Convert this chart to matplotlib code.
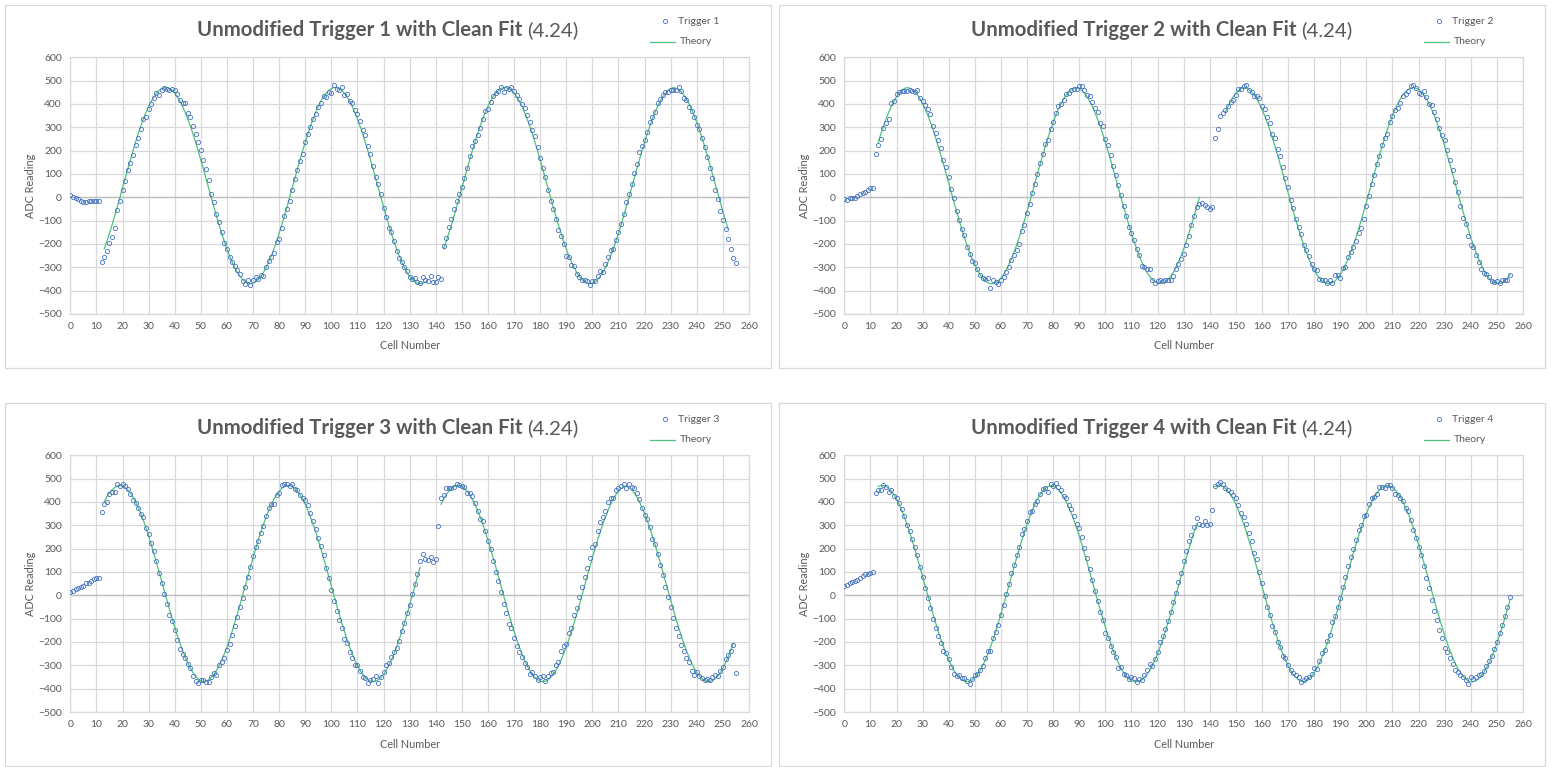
import matplotlib
matplotlib.use("Agg")
import numpy as np
import matplotlib.pyplot as plt
from matplotlib.lines import Line2D
from matplotlib.patches import Rectangle

plt.rcParams['font.family'] = ['Lato', 'DejaVu Sans']

# ---- measured ADC readings, one per cell (0..255) ----
trigger1 = [10, 3, -3, -9, -17, -18, -18, -16, -15, -17, -15, -17,
            -276, -255, -229, -196, -170, -133, -53, -14, 33,
            70, 116, 149, 183, 224, 256, 292, 335, 345, 378,
            399, 426, 447, 437, 459, 470, 465, 460, 465, 460,
            441, 416, 405, 404, 363, 343, 304, 271, 237, 203,
            160, 120, 75, 16, -22, -70, -105, -149, -194, -223,
            -257, -278, -296, -312, -328, -357, -370, -353, -376, -356,
            -341, -352, -334, -338, -298, -273, -256, -239, -193, -178,
            -132, -82, -49, -15, 31, 77, 118, 157, 186, 239,
            273, 300, 335, 358, 386, 404, 434, 428, 452, 447,
            480, 463, 462, 474, 437, 444, 411, 404, 374, 356,
            325, 289, 267, 220, 187, 133, 88, 58, 16, -45,
            -83, -131, -149, -188, -232, -262, -278, -297, -316, -340,
            -349, -347, -362, -366, -341, -356, -359, -337, -361, -365, -341, -349,
            -209, -173, -127, -94, -50, -17, 16, 44, 83, 126,
            176, 220, 240, 266, 296, 337, 369, 380, 409, 433,
            449, 456, 473, 451, 469, 466, 473, 456, 440, 420,
            401, 384, 354, 323, 287, 261, 216, 170, 127, 86,
            30, -14, -51, -94, -139, -166, -199, -251, -256, -291,
            -296, -327, -341, -356, -356, -360, -377, -360, -359, -339,
            -316, -320, -284, -256, -227, -223, -181, -149, -113, -73,
            -20, 16, 59, 104, 144, 194, 221, 247, 280, 323,
            344, 364, 404, 420, 440, 451, 451, 461, 459, 461,
            473, 456, 427, 416, 387, 369, 344, 309, 294, 254,
            216, 173, 127, 83, 33, -9, -59, -96, -137, -180,
            -223, -259, -280]

trigger2 = [-9, -11, -4, -3, -1, 7, 14, 19, 24, 33, 39, 39,
            184, 223, 251, 296, 319, 334, 403, 414, 443,
            451, 456, 456, 454, 459, 457, 451, 459, 426, 413,
            397, 380, 356, 304, 277, 247, 211, 161, 130, 86,
            37, -1, -60, -96, -136, -160, -213, -244, -273, -280,
            -309, -334, -346, -351, -346, -389, -356, -364, -373, -356,
            -341, -319, -299, -270, -249, -227, -199, -146, -117, -67,
            -30, 19, 56, 99, 147, 187, 227, 247, 294, 323,
            361, 390, 401, 419, 444, 447, 459, 466, 464, 477,
            477, 461, 440, 433, 409, 384, 366, 320, 304, 249,
            224, 183, 134, 94, 51, 10, -37, -80, -126, -153,
            -181, -221, -249, -293, -297, -306, -309, -356, -366, -359,
            -356, -359, -353, -356, -353, -339, -306, -284, -263, -244,
            -206, -166, -120, -80, -40, -30, -26, -33, -40, -50, -42,
            256, 292, 347, 363, 373, 390, 407, 419, 437, 463,
            463, 476, 480, 461, 451, 434, 434, 426, 390, 377,
            344, 319, 273, 256, 207, 179, 130, 83, 43, -10,
            -46, -91, -127, -156, -203, -224, -251, -284, -306, -313,
            -350, -353, -356, -366, -356, -366, -334, -334, -347, -303,
            -299, -256, -234, -213, -189, -153, -130, -91, -36, 6,
            57, 94, 141, 176, 223, 256, 270, 323, 350, 373,
            384, 406, 434, 444, 456, 476, 480, 469, 449, 444,
            456, 430, 401, 394, 366, 334, 299, 266, 244, 201,
            161, 119, 67, 21, -37, -87, -116, -164, -206, -213,
            -247, -277, -306, -324, -330, -341, -359, -363, -359, -366,
            -356, -356, -353, -335]

trigger3 = [13, 17, 27, 30, 34, 42, 53, 52, 63, 70, 73, 76,
            357, 392, 400, 436, 443, 443, 476, 469, 475,
            469, 455, 435, 410, 397, 374, 350, 336, 288, 263,
            225, 192, 146, 95, 53, 6, -39, -86, -112, -149,
            -191, -232, -253, -270, -294, -313, -346, -366, -374, -364,
            -364, -372, -372, -350, -331, -343, -298, -284, -270, -234,
            -208, -168, -132, -92, -50, -13, 34, 80, 121, 168,
            207, 232, 268, 296, 339, 374, 393, 393, 432, 440,
            472, 476, 476, 469, 475, 455, 450, 432, 415, 410,
            389, 353, 317, 286, 245, 211, 171, 116, 76, 22,
            -23, -66, -105, -139, -188, -205, -245, -270, -297, -300,
            -324, -350, -353, -374, -363, -360, -346, -374, -349, -327,
            -300, -290, -265, -245, -227, -197, -152, -119, -77, -40,
            6, 49, 93, 145, 178, 156, 152, 164, 142, 156, 296,
            415, 432, 458, 458, 458, 465, 475, 472, 468, 465,
            440, 440, 426, 397, 363, 326, 317, 275, 231, 197,
            149, 102, 60, 13, -36, -77, -125, -142, -184, -217,
            -241, -263, -288, -306, -337, -329, -346, -364, -350, -346,
            -369, -346, -331, -327, -298, -286, -238, -217, -209, -162,
            -138, -85, -55, -9, 34, 80, 119, 159, 207, 221,
            275, 314, 336, 362, 400, 418, 418, 453, 458, 469,
            475, 458, 475, 465, 458, 440, 412, 376, 343, 326,
            293, 242, 218, 175, 132, 85, 34, -9, -52, -96,
            -139, -176, -214, -237, -270, -286, -326, -343, -327, -346,
            -356, -364, -360, -364, -350, -341, -346, -324, -307, -274,
            -255, -238, -211, -333]

trigger4 = [39, 44, 52, 56, 60, 65, 75, 83, 92, 92, 95, 102,
            439, 450, 453, 472, 465, 443, 450, 426, 415,
            396, 369, 339, 300, 275, 242, 205, 172, 122, 77,
            30, -11, -56, -102, -142, -176, -205, -238, -248, -274,
            -307, -339, -346, -343, -353, -353, -367, -382, -360, -341,
            -336, -321, -303, -270, -238, -238, -185, -159, -126, -83,
            -40, 6, 49, 95, 132, 171, 207, 261, 286, 319,
            357, 360, 390, 403, 436, 455, 461, 443, 475, 469,
            482, 465, 453, 426, 419, 389, 372, 339, 307, 288,
            248, 202, 161, 113, 66, 20, -26, -73, -105, -162,
            -184, -217, -241, -264, -310, -306, -336, -343, -360, -349,
            -353, -370, -360, -363, -343, -320, -296, -303, -274, -242,
            -199, -176, -145, -109, -73, -30, 9, 56, 96, 146,
            188, 231, 257, 293, 333, 307, 300, 317, 300, 304, 364,
            468, 476, 486, 475, 462, 450, 443, 432, 415, 386,
            353, 336, 306, 268, 232, 181, 156, 99, 52, -1,
            -49, -85, -133, -159, -202, -220, -260, -267, -300, -321,
            -334, -343, -349, -370, -363, -356, -350, -339, -310, -314,
            -281, -248, -234, -195, -171, -116, -88, -52, -13, 34,
            77, 125, 164, 197, 238, 281, 300, 339, 346, 393,
            415, 422, 436, 465, 465, 458, 472, 472, 462, 433,
            429, 418, 403, 374, 360, 324, 281, 245, 207, 174,
            125, 75, 30, -19, -69, -106, -148, -181, -227, -245,
            -270, -296, -321, -329, -340, -349, -364, -379, -352, -360,
            -349, -343, -338, -324, -303, -280, -262, -230, -202, -162,
            -126, -90, -49, -9]

# ---- clean-fit theory curve, drawn in two pieces per trigger ----
theory1_a_start = 13
theory1_a = [-221, -189, -154, -118, -80, -41, -1, 40, 80, 121, 160, 199, 236, 272,
             305, 336, 364, 390, 412, 431, 446, 458, 466, 470, 470, 466, 458, 446,
             431, 412, 390, 364, 336, 305, 272, 236, 199, 160, 121, 80, 40, -1,
             -41, -80, -118, -154, -189, -221, -251, -277, -301, -322, -339, -352,
             -362, -368,
             -370, -368, -362, -352, -339, -322, -301, -277, -251, -221, -189, -154,
             -118, -80, -41, -1, 40, 80, 121, 160, 199, 236, 272, 305, 336, 364, 390,
             412, 431, 446, 458, 466, 470, 470, 466, 458, 446, 431, 412, 390, 364,
             336, 305, 272, 236, 199, 160, 121, 80, 40, -1, -41, -80, -118, -154,
             -189, -221, -251, -277, -301, -322, -339, -352, -362, -368,
             -370, -368, -362]
theory1_b_start = 143
theory1_b = [-221, -189, -154, -118, -80, -41, -1, 40, 80, 121, 160, 199, 236, 272,
             305, 336, 364, 390, 412, 431, 446, 458, 466, 470, 470, 466, 458, 446,
             431, 412, 390, 364, 336, 305, 272, 236, 199, 160, 121, 80, 40, -1,
             -41, -80, -118, -154, -189, -221, -251, -277, -301, -322, -339, -352,
             -362, -368,
             -370, -368, -362, -352, -339, -322, -301, -277, -251, -221, -189, -154,
             -118, -80, -41, -1, 40, 80, 121, 160, 199, 236, 272, 305, 336, 364, 390,
             412, 431, 446, 458, 466, 470,
             468, 462, 452, 439, 422, 401, 377, 351, 321, 289, 254, 218, 180, 141,
             101, 60, 20, -21, -60, -99, -136]

theory2_a_start = 13
theory2_a = [236, 272, 305, 336, 364, 390, 412, 431, 446, 458, 466, 470,
             468, 462, 452, 439, 422, 401, 377, 351, 321, 289, 254, 218, 180, 141,
             101, 60, 20, -21, -60, -99, -136, -172, -205, -236, -264, -290, -312,
             -331, -346, -358, -366, -370, -370, -366, -358, -346, -331, -312, -290,
             -264, -236, -205, -172, -136, -99, -60, -21, 20, 60, 101, 141, 180, 218,
             254, 289, 321, 351, 377, 401, 422, 439, 452, 462, 468,
             470, 466, 458, 446, 431, 412, 390, 364, 336, 305, 272, 236, 199, 160,
             121, 80, 40, -1, -41, -80, -118, -154, -189, -221, -251, -277, -301,
             -322, -339, -352, -362, -368,
             -370, -368, -362, -352, -339, -322, -301, -277, -251, -221, -189, -154,
             -118, -80, -41, -1]
theory2_b_start = 146
theory2_b = [364, 390, 412, 431, 446, 458, 466,
             470, 468, 462, 452, 439, 422, 401, 377, 351, 321, 289, 254, 218, 180,
             141, 101, 60, 20, -21, -60, -99, -136, -172, -205, -236, -264, -290,
             -312, -331, -346, -358, -366, -370, -370, -366, -358, -346, -331, -312,
             -290, -264, -236, -205, -172, -136, -99, -60, -21, 20, 60, 101, 141,
             180, 218, 254, 289, 321, 351, 377, 401, 422, 439, 452, 462, 468,
             470, 468, 462, 452, 439, 422, 401, 377, 351, 321, 289, 254, 218, 180,
             141, 101, 60, 20, -21, -60, -99, -136, -172, -205, -236, -264, -290,
             -312, -331, -346, -358, -366, -370, -370, -366, -358, -346, -331]

theory3_a_start = 13
theory3_a = [401, 422, 439, 452, 462, 468,
             470, 468, 462, 452, 439, 422, 401, 377, 351, 321, 289, 254, 218, 180,
             141, 101, 60, 20, -21, -60, -99, -136, -172, -205, -236, -264, -290,
             -312, -331, -346, -358, -366, -370,
             -368, -362, -352, -339, -322, -301, -277, -251, -221, -189, -154, -118,
             -80, -41, -1, 40, 80, 121, 160, 199, 236, 272, 305, 336, 364, 390, 412,
             431, 446, 458, 466, 470,
             470, 466, 458, 446, 431, 412, 390, 364, 336, 305, 272, 236, 199, 160,
             121, 80, 40, -1, -41, -80, -118, -154, -189, -221, -251, -277, -301,
             -322, -339, -352, -362, -368,
             -370, -368, -362, -352, -339, -322, -301, -277, -251, -221, -189, -154,
             -118, -80, -41, -1, 40, 80, 121]
theory3_b_start = 142
theory3_b = [390, 412, 431, 446, 458, 466, 470, 470, 466, 458, 446, 431, 412, 390,
             364, 336, 305, 272, 236, 199, 160, 121, 80, 40, -1, -41, -80, -118,
             -154, -189, -221, -251, -277, -301, -322, -339, -352, -362, -368,
             -370, -368, -362, -352, -339, -322, -301, -277, -251, -221, -189, -154,
             -118, -80, -41, -1, 40, 80, 121, 160, 199, 236, 272, 305, 336, 364, 390,
             412, 431, 446, 458, 466,
             468, 462, 452, 439, 422, 401, 377, 351, 321, 289, 254, 218, 180, 141,
             101, 60, 20, -21, -60, -99, -136, -172, -205, -236, -264, -290, -312,
             -331, -346, -358, -366, -370, -370, -366, -358, -346, -331, -312, -290,
             -264, -236, -205]

theory4_a_start = 13
theory4_a = [466, 470, 470, 466, 458, 446, 431, 412, 390, 364, 336, 305, 272, 236,
             199, 160, 121, 80, 40, -1, -41, -80, -118, -154, -189, -221, -251, -277,
             -301, -322, -339, -352, -362, -368,
             -370, -368, -362, -352, -339, -322, -301, -277, -251, -221, -189, -154,
             -118, -80, -41, -1, 40, 80, 121, 160, 199, 236, 272, 305, 336, 364, 390,
             412, 431, 446, 458, 466, 470,
             468, 462, 452, 439, 422, 401, 377, 351, 321, 289, 254, 218, 180, 141,
             101, 60, 20, -21, -60, -99, -136, -172, -205, -236, -264, -290, -312,
             -331, -346, -358, -366, -370,
             -370, -368, -362, -352, -339, -322, -301, -277, -251, -221, -189, -154,
             -118, -80, -41, -1, 40, 80, 121, 160, 199, 236, 272, 305]
theory4_b_start = 142
theory4_b = [466, 470, 470, 466, 458, 446, 431, 412, 390, 364, 336, 305, 272, 236,
             199, 160, 121, 80, 40, -1, -41, -80, -118, -154, -189, -221, -251, -277,
             -301, -322, -339, -352, -362, -368,
             -370, -366, -358, -346, -331, -312, -290, -264, -236, -205, -172, -136,
             -99, -60, -21, 20, 60, 101, 141, 180, 218, 254, 289, 321, 351, 377, 401,
             422, 439, 452, 462, 468,
             470, 468, 462, 452, 439, 422, 401, 377, 351, 321, 289, 254, 218, 180,
             141, 101, 60, 20, -21, -60, -99, -136, -172, -205, -236, -264, -290,
             -312, -331, -346, -358, -366, -370, -370, -366, -358, -346, -331, -312,
             -290, -264, -236, -205, -172, -136, -99, -60, -21]

triggers = [trigger1, trigger2, trigger3, trigger4]
theories = [
    [(theory1_a_start, theory1_a), (theory1_b_start, theory1_b)],
    [(theory2_a_start, theory2_a), (theory2_b_start, theory2_b)],
    [(theory3_a_start, theory3_a), (theory3_b_start, theory3_b)],
    [(theory4_a_start, theory4_a), (theory4_b_start, theory4_b)],
]
x_ticks = list(range(0, 261, 10))
y_ticks = list(range(-500, 601, 100))

W, H = 1551, 767
DOT = '#4472C4'
FIT = '#4EC27A'
GRID = '#D9D9D9'
TXT = '#595959'

fig = plt.figure(figsize=(W / 100, H / 100), dpi=100)
renderer = fig.canvas.get_renderer()


def fx(px):
    return px / W


def fy(py):
    return 1 - py / H


for k in range(4):
    x0 = 5 + (k % 2) * 774
    y0 = 5 + (k // 2) * 398
    data = triggers[k]

    # chart-area border
    fig.add_artist(Rectangle((fx(x0), fy(y0 + 363)), 766 / W, 363 / H,
                             transform=fig.transFigure, fill=False,
                             edgecolor=GRID, linewidth=0.9))

    left, right = x0 + 65.3, x0 + 744
    top, bottom = y0 + 52.3, y0 + 309
    ax = fig.add_axes([fx(left), fy(bottom), (right - left) / W, (bottom - top) / H])

    for start, vals in theories[k]:
        xs = np.arange(start, start + len(vals))
        ax.plot(xs, vals, color=FIT, linewidth=0.9, zorder=3)
    ax.plot(range(len(data)), data, linestyle='none', marker='o',
            markersize=3.0, markerfacecolor='none', markeredgecolor=DOT,
            markeredgewidth=0.6, zorder=4)

    ax.set_xlim(0, 260)
    ax.set_ylim(-500, 600)
    ax.set_xticks(x_ticks)
    ax.set_yticks(y_ticks)
    ax.grid(True, color=GRID, linewidth=0.9, zorder=0)
    ax.axhline(0, color='#BFBFBF', linewidth=1.0, zorder=1)
    for s in ax.spines.values():
        s.set_color(GRID)
        s.set_linewidth(0.9)
    ax.tick_params(length=0, labelsize=7.5, labelcolor=TXT, pad=6)
    ax.set_axisbelow(True)

    # axis titles
    fig.text(fx(x0 + 25), fy((top + bottom) / 2), 'ADC Reading', rotation=90,
             ha='center', va='center', fontsize=7.8, color=TXT)
    fig.text(fx((left + right) / 2), fy(y0 + 341), 'Cell Number',
             ha='center', va='center', fontsize=7.8, color=TXT)

    # title: bold part + regular part, centred together
    t1 = fig.text(0, fy(y0 + 25), f'Unmodified Trigger {k + 1} with Clean Fit ',
                  fontsize=14.7, fontweight='bold', color=TXT, va='center', ha='left')
    t2 = fig.text(0, fy(y0 + 25), '(4.24)', fontsize=14.7, color=TXT,
                  va='center', ha='left')
    w1 = t1.get_window_extent(renderer).width
    w2 = t2.get_window_extent(renderer).width
    cx = x0 + 383
    t1.set_x(fx(cx - (w1 + w2) / 2))
    t2.set_x(fx(cx - (w1 + w2) / 2 + w1))

    # legend
    fig.add_artist(Line2D([fx(x0 + 660)], [fy(y0 + 16)], transform=fig.transFigure,
                          linestyle='none', marker='o', markersize=3.0,
                          markerfacecolor='none', markeredgecolor=DOT,
                          markeredgewidth=0.6))
    fig.text(fx(x0 + 673), fy(y0 + 16), f'Trigger {k + 1}', fontsize=7.5,
             color=TXT, va='center', ha='left')
    fig.add_artist(Line2D([fx(x0 + 645), fx(x0 + 670)], [fy(y0 + 37), fy(y0 + 37)],
                          transform=fig.transFigure, color=FIT, linewidth=0.9))
    fig.text(fx(x0 + 675), fy(y0 + 37), 'Theory', fontsize=7.5,
             color=TXT, va='center', ha='left')

fig.savefig('out.png', dpi=100)
